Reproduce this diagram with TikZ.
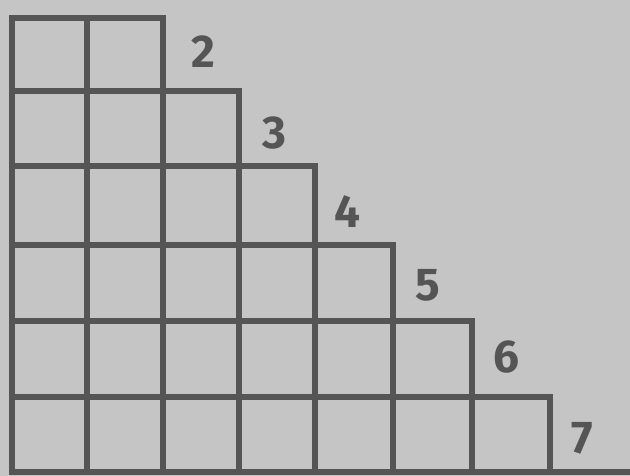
\documentclass[tikz,border=0pt]{standalone}
\usepackage{fontspec}
\newfontfamily\digitfont{Fira Sans}
\definecolor{paper}{RGB}{197,197,197}
\definecolor{ink}{RGB}{85,85,85}
\begin{document}
\begin{tikzpicture}[x=1pt,y=-1pt,
  gridline/.style={draw=ink,line width=5.5pt,line cap=rect},
  steplabel/.style={text=ink,font=\digitfont\bfseries\fontsize{46}{46}\selectfont,inner sep=0pt}]
\fill[paper] (0,0) rectangle (630,476);
\useasboundingbox (0,0) rectangle (630,476);
\def\xs{{12,87,163,239,315,393,472,550}}
\def\ys{{18,91,166,245,321,397,472}}
% horizontal lines
\draw[gridline] (12,18) -- (163,18);
\foreach \j in {1,...,5}{
  \pgfmathsetmacro{\yy}{\ys[\j]}
  \pgfmathtruncatemacro{\k}{\j+2}
  \pgfmathsetmacro{\xx}{\xs[\k]}
  \draw[gridline] (12,\yy) -- (\xx,\yy);
}
\draw[gridline] (12,472) -- (632,472);
% vertical lines
\foreach \i in {0,1,2}{
  \pgfmathsetmacro{\xx}{\xs[\i]}
  \draw[gridline] (\xx,18) -- (\xx,472);
}
\foreach \i in {3,...,7}{
  \pgfmathsetmacro{\xx}{\xs[\i]}
  \pgfmathtruncatemacro{\k}{\i-2}
  \pgfmathsetmacro{\yy}{\ys[\k]}
  \draw[gridline] (\xx,\yy) -- (\xx,472);
}
\node[steplabel] (l2) at (203,52) {2};
\node[steplabel] (l3) at (274,133) {3};
\node[steplabel] (l4) at (347,212) {4};
\node[steplabel] (l5) at (428,285) {5};
\node[steplabel] (l6) at (506,357) {6};
\node[steplabel] (l7) at (582,438) {7};
\end{tikzpicture}
\end{document}
